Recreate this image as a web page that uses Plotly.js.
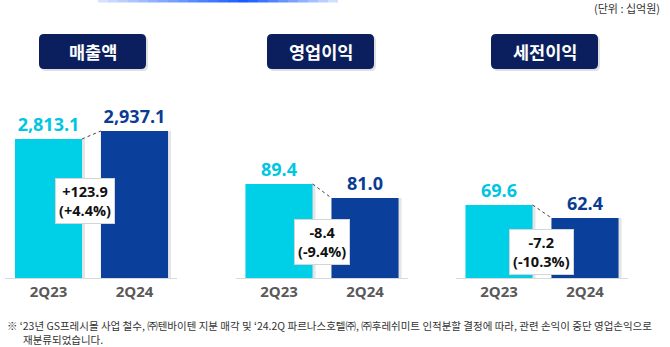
<!DOCTYPE html>
<html>
<head>
<meta charset="utf-8">
<script src="https://cdn.plot.ly/plotly-3.0.1.min.js"></script>
<style>html,body{margin:0;padding:0;background:#fff;}#chart{width:670px;height:347px;}</style>
</head>
<body>
<div id="chart"></div>
<script>
// ---- data ----
const categories = ['2Q23', '2Q24'];
const panelTitles = ['매출액', '영업이익', '세전이익'];
const sales = [2813.1, 2937.1];
const operatingProfit = [89.4, 81.0];
const pretaxProfit = [69.6, 62.4];
const changeValues = ['+123.9', '-8.4', '-7.2'];
const changePercents = ['(+4.4%)', '(-9.4%)', '(-10.3%)'];
const unitLabel = '(단위 : 십억원)';
const footnoteLines = [
  '※ ‘23년 GS프레시몰 사업 철수, ㈜텐바이텐 지분 매각 및 ‘24.2Q 파르나스호텔㈜, ㈜후레쉬미트 인적분할 결정에 따라, 관련 손익이 중단 영업손익으로',
  '재분류되었습니다.'
];

// ---- style ----
const W = 670, H = 347;
const FONT = 'Open Sans, "Noto Sans CJK KR", sans-serif';
const KFONT = '"Noto Sans CJK KR", sans-serif';
const barColors = ['#00CFE8', '#0A3F9C'];
const labelColors = ['#00C6E2', '#0A3C94'];
const series = [sales, operatingProfit, pretaxProfit];
const xDomains = [[0.0082, 0.2649], [0.3522, 0.6090], [0.6806, 0.9373]];
const yRanges = [[658.6, 4967.6], [33.0, 199.8], [29.17, 183.1]];
const yDomain = [0.199, 1];
const boxX = [0.43, 0.5, 0.5];
const boxY = [0.277, 0.129, 0.095];
const titleCenters = [93, 321, 545];
const BW = 0.78;

const X = px => px / W;
const Y = py => 1 - py / H;
function rr(x0, y0, x1, y1, r) {
  return `M ${X(x0 + r)},${Y(y0)} L ${X(x1 - r)},${Y(y0)} Q ${X(x1)},${Y(y0)} ${X(x1)},${Y(y0 + r)} ` +
    `L ${X(x1)},${Y(y1 - r)} Q ${X(x1)},${Y(y1)} ${X(x1 - r)},${Y(y1)} L ${X(x0 + r)},${Y(y1)} ` +
    `Q ${X(x0)},${Y(y1)} ${X(x0)},${Y(y1 - r)} L ${X(x0)},${Y(y0 + r)} Q ${X(x0)},${Y(y0)} ${X(x0 + r)},${Y(y0)} Z`;
}

const traces = [];
const layout = {
  width: W, height: H,
  margin: {l: 0, r: 0, t: 0, b: 0},
  paper_bgcolor: '#fff', plot_bgcolor: 'rgba(0,0,0,0)',
  barmode: 'overlay',
  showlegend: false,
  font: {family: FONT},
  annotations: [], shapes: []
};

series.forEach((vals, i) => {
  const sfx = i === 0 ? '' : String(i + 1);
  const xa = 'x' + sfx, ya = 'y' + sfx;
  const xs = categories.map((_, k) => k);
  // soft shadow
  traces.push({
    type: 'bar', x: xs, y: vals, xaxis: xa, yaxis: ya,
    width: BW, offset: -BW / 2 + 0.035,
    marker: {color: 'rgba(0,0,0,0.10)'}, hoverinfo: 'skip'
  });
  traces.push({
    type: 'bar', x: xs, y: vals, xaxis: xa, yaxis: ya,
    width: BW, marker: {color: barColors},
    texttemplate: '%{y:,.1f}', textposition: 'outside', cliponaxis: false,
    textfont: {family: FONT, size: 18, color: labelColors, weight: 'bold'},
    hoverinfo: 'skip'
  });
  // dotted connector between bar tops
  traces.push({
    type: 'scatter', mode: 'lines', x: [BW / 2, 1 - BW / 2], y: vals,
    xaxis: xa, yaxis: ya, line: {color: '#444', width: 1, dash: 'dot'}, hoverinfo: 'skip'
  });
  layout['xaxis' + sfx] = {
    domain: xDomains[i], range: [-0.5, 1.5], anchor: ya,
    tickvals: xs, ticktext: categories, ticks: '',
    showline: true, linecolor: '#d9d9d9', linewidth: 1,
    showgrid: false, zeroline: false, fixedrange: true,
    tickfont: {family: FONT, size: 15, color: '#595959', weight: 'bold'}
  };
  layout['yaxis' + sfx] = {
    domain: yDomain, range: yRanges[i], anchor: xa, visible: false, fixedrange: true
  };
  layout.annotations.push({
    xref: xa, yref: ya + ' domain', x: boxX[i], y: boxY[i],
    xanchor: 'center', yanchor: 'middle', showarrow: false,
    text: `<b>${changeValues[i]}</b><br><b>${changePercents[i]}</b>`,
    font: {family: FONT, size: 14.5, color: '#111'},
    bgcolor: '#ffffff', bordercolor: '#d5d5d5', borderwidth: 1, borderpad: 3
  });
  // title box
  const c = titleCenters[i];
  layout.shapes.push({type: 'path', xref: 'paper', yref: 'paper', path: rr(c - 52, 36, c + 55, 71, 5),
    fillcolor: 'rgba(0,0,0,0.12)', line: {width: 0}, layer: 'below'});
  layout.shapes.push({type: 'path', xref: 'paper', yref: 'paper', path: rr(c - 54, 34, c + 53, 69, 5),
    fillcolor: '#0B1F5E', line: {width: 0}, layer: 'above'});
  layout.annotations.push({
    xref: 'paper', yref: 'paper', x: X(c - 0.5), y: Y(52), xanchor: 'center', yanchor: 'middle',
    showarrow: false, text: `<b>${panelTitles[i]}</b>`,
    font: {family: KFONT, size: 17.5, color: '#ffffff'}
  });
});

// top blue gradient stripe
const gStart = 98, gEnd = 338, gPeak = 245, steps = 24;
for (let s = 0; s < steps; s++) {
  const a = gStart + (gEnd - gStart) * s / steps, b = gStart + (gEnd - gStart) * (s + 1) / steps;
  const m = (a + b) / 2;
  const d = m < gPeak ? (m - gStart) / (gPeak - gStart) : (gEnd - m) / (gEnd - gPeak);
  layout.shapes.push({type: 'rect', xref: 'paper', yref: 'paper', x0: X(a), x1: X(b), y0: Y(2.5), y1: Y(0),
    fillcolor: `rgba(20,90,255,${(0.15 + 0.85 * d).toFixed(2)})`, line: {width: 0}});
}

layout.annotations.push({
  xref: 'paper', yref: 'paper', x: X(662), y: Y(8), xanchor: 'right', yanchor: 'middle',
  showarrow: false, text: unitLabel, font: {family: KFONT, size: 11, color: '#333'}
});
layout.annotations.push({
  xref: 'paper', yref: 'paper', x: X(5), y: Y(325), xanchor: 'left', yanchor: 'middle',
  showarrow: false, text: footnoteLines[0], font: {family: KFONT, size: 10.5, color: '#333'}
});
layout.annotations.push({
  xref: 'paper', yref: 'paper', x: X(21), y: Y(339), xanchor: 'left', yanchor: 'middle',
  showarrow: false, text: footnoteLines[1], font: {family: KFONT, size: 10.5, color: '#333'}
});

Plotly.newPlot('chart', traces, layout, {displayModeBar: false, staticPlot: true});
</script>
</body>
</html>
